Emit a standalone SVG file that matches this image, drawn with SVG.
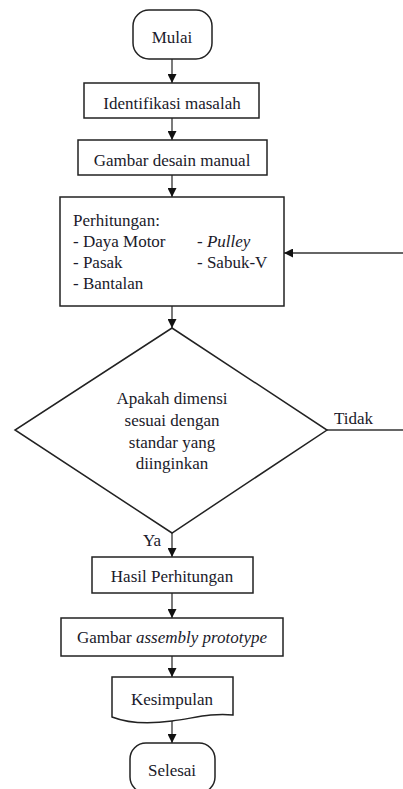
<svg xmlns="http://www.w3.org/2000/svg" width="403" height="789" viewBox="0 0 403 789">
<style>
  .shape { fill: #ffffff; stroke: #222222; stroke-width: 1.5; }
  .conn { fill: none; stroke: #333333; stroke-width: 1.3; }
  text { font-family: "Liberation Serif", "Times New Roman", serif; font-size: 17px; fill: #1a1a2a; }
  .c { text-anchor: middle; }
  .i { font-style: italic; }
</style>
<defs>
  <marker id="arr" viewBox="0 0 10 10" refX="10" refY="5" markerWidth="9" markerHeight="9" markerUnits="userSpaceOnUse" orient="auto">
    <path d="M0,0 L10,5 L0,10 Z" fill="#111111"/>
  </marker>
</defs>
<rect width="403" height="789" fill="#ffffff"/>

<g id="connectors">
  <line class="conn" x1="172" y1="59" x2="172" y2="83" marker-end="url(#arr)"/>
  <line class="conn" x1="172" y1="118" x2="172" y2="140" marker-end="url(#arr)"/>
  <line class="conn" x1="172" y1="175" x2="172" y2="197" marker-end="url(#arr)"/>
  <line class="conn" x1="172" y1="306" x2="172" y2="328" marker-end="url(#arr)"/>
  <line class="conn" x1="403" y1="253" x2="284" y2="253" marker-end="url(#arr)"/>
  <line class="conn" x1="327" y1="430" x2="403" y2="430"/>
  <line class="conn" x1="172" y1="533" x2="172" y2="557" marker-end="url(#arr)"/>
  <line class="conn" x1="172" y1="593" x2="172" y2="618" marker-end="url(#arr)"/>
  <line class="conn" x1="172" y1="656" x2="172" y2="677" marker-end="url(#arr)"/>
  <line class="conn" x1="172" y1="721" x2="172" y2="743" marker-end="url(#arr)"/>
  <text x="334" y="424">Tidak</text>
  <text x="143" y="546">Ya</text>
</g>

<g id="mulai">
  <rect class="shape" x="133" y="10" width="79" height="49" rx="16" ry="16"/>
  <text class="c" x="172" y="43">Mulai</text>
</g>

<g id="identifikasi">
  <rect class="shape" x="84" y="83" width="175" height="35"/>
  <text class="c" x="172" y="109">Identifikasi masalah</text>
</g>

<g id="gambar-desain">
  <rect class="shape" x="78" y="140" width="189" height="35"/>
  <text class="c" x="172" y="166">Gambar desain manual</text>
</g>

<g id="perhitungan">
  <rect class="shape" x="60" y="197" width="224" height="109"/>
  <text x="73" y="226">Perhitungan:</text>
  <text x="73" y="247">- Daya Motor</text>
  <text x="73" y="268">- Pasak</text>
  <text x="73" y="289">- Bantalan</text>
  <text x="197" y="247">- <tspan class="i">Pulley</tspan></text>
  <text x="197" y="268">- Sabuk-V</text>
</g>

<g id="keputusan">
  <polygon class="shape" points="172,328 327,430 172,533 15,430"/>
  <text class="c" x="172" y="404">Apakah dimensi</text>
  <text class="c" x="172" y="426">sesuai dengan</text>
  <text class="c" x="172" y="448">standar yang</text>
  <text class="c" x="172" y="469">diinginkan</text>
</g>

<g id="hasil">
  <rect class="shape" x="92" y="557" width="161" height="36"/>
  <text class="c" x="172" y="582">Hasil Perhitungan</text>
</g>

<g id="gambar-assembly">
  <rect class="shape" x="61" y="618" width="222" height="38"/>
  <text class="c" x="172" y="643">Gambar <tspan class="i">assembly prototype</tspan></text>
</g>

<g id="kesimpulan">
  <path class="shape" d="M112,677 H233 V715 C210,713 195,718 172,721 C150,724 130,724 112,717 Z"/>
  <text class="c" x="172" y="705">Kesimpulan</text>
</g>

<g id="selesai">
  <rect class="shape" x="130" y="743" width="85" height="50" rx="16" ry="16"/>
  <text class="c" x="172" y="776">Selesai</text>
</g>
</svg>
